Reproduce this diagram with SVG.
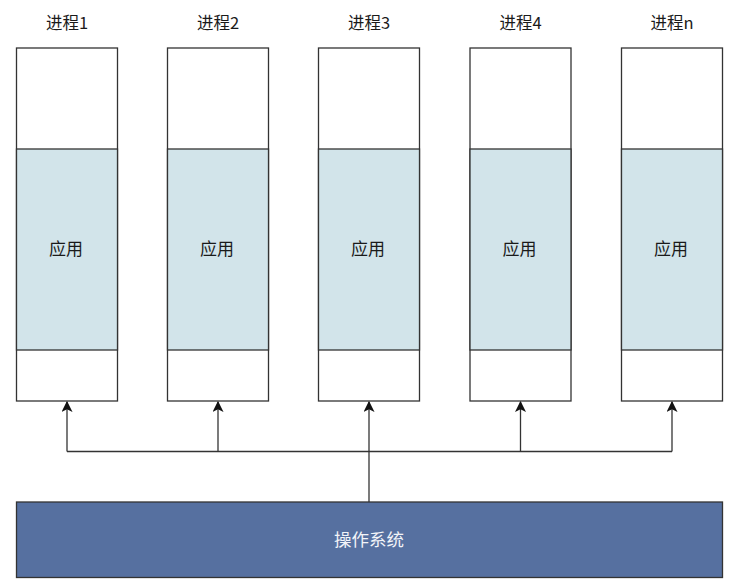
<svg xmlns="http://www.w3.org/2000/svg" width="733" height="587" viewBox="0 0 733 587">
<style>
.title{font-family:"Noto Sans CJK SC","Liberation Sans",sans-serif;font-size:16.5px;fill:#1a1a1a;text-anchor:middle}
.lbl{font-family:"Noto Sans CJK SC","Liberation Sans",sans-serif;font-size:17px;fill:#1a1a1a;text-anchor:middle}
.box{fill:#fff;stroke:#333;stroke-width:1.3}
.app{fill:#d2e4ea;stroke:#333;stroke-width:1.3}
.conn{fill:none;stroke:#333;stroke-width:1.3}
</style>
<defs>
<marker id="arr" viewBox="0 0 10 10" refX="9" refY="5" markerWidth="11" markerHeight="11" markerUnits="userSpaceOnUse" orient="auto">
<path d="M0,0 L10,5 L0,10 L2.5,5 Z" fill="#111"/>
</marker>
</defs>
<rect width="733" height="587" fill="#fff"/>
<g id="p1">
<text class="title" x="67" y="29">进程1</text>
<rect class="box" x="16.5" y="48" width="101" height="353"/>
<rect class="app" x="16.5" y="149" width="101" height="201"/>
<text class="lbl" x="66" y="255">应用</text>
</g>
<g id="p2">
<text class="title" x="218" y="29">进程2</text>
<rect class="box" x="167.5" y="48" width="101" height="353"/>
<rect class="app" x="167.5" y="149" width="101" height="201"/>
<text class="lbl" x="217" y="255">应用</text>
</g>
<g id="p3">
<text class="title" x="369" y="29">进程3</text>
<rect class="box" x="318.5" y="48" width="101" height="353"/>
<rect class="app" x="318.5" y="149" width="101" height="201"/>
<text class="lbl" x="368" y="255">应用</text>
</g>
<g id="p4">
<text class="title" x="520.5" y="29">进程4</text>
<rect class="box" x="470" y="48" width="101" height="353"/>
<rect class="app" x="470" y="149" width="101" height="201"/>
<text class="lbl" x="519.5" y="255">应用</text>
</g>
<g id="pn">
<text class="title" x="672" y="29">进程n</text>
<rect class="box" x="621.5" y="48" width="101" height="353"/>
<rect class="app" x="621.5" y="149" width="101" height="201"/>
<text class="lbl" x="671" y="255">应用</text>
</g>
<g id="os">
<rect x="16.5" y="502" width="706" height="75.5" fill="#5670a0" stroke="#333" stroke-width="1.3"/>
<text x="369" y="546" font-family="'Noto Sans CJK SC','Liberation Sans',sans-serif" font-size="17.5" fill="#f2f4f8" text-anchor="middle">操作系统</text>
</g>
<g id="connectors">
<path class="conn" d="M369,502 L369,402" marker-end="url(#arr)"/>
<path class="conn" d="M67,451.5 L672,451.5"/>
<path class="conn" d="M67,451.5 L67,402" marker-end="url(#arr)"/>
<path class="conn" d="M218,451.5 L218,402" marker-end="url(#arr)"/>
<path class="conn" d="M520.5,451.5 L520.5,402" marker-end="url(#arr)"/>
<path class="conn" d="M672,451.5 L672,402" marker-end="url(#arr)"/>
</g>
</svg>
